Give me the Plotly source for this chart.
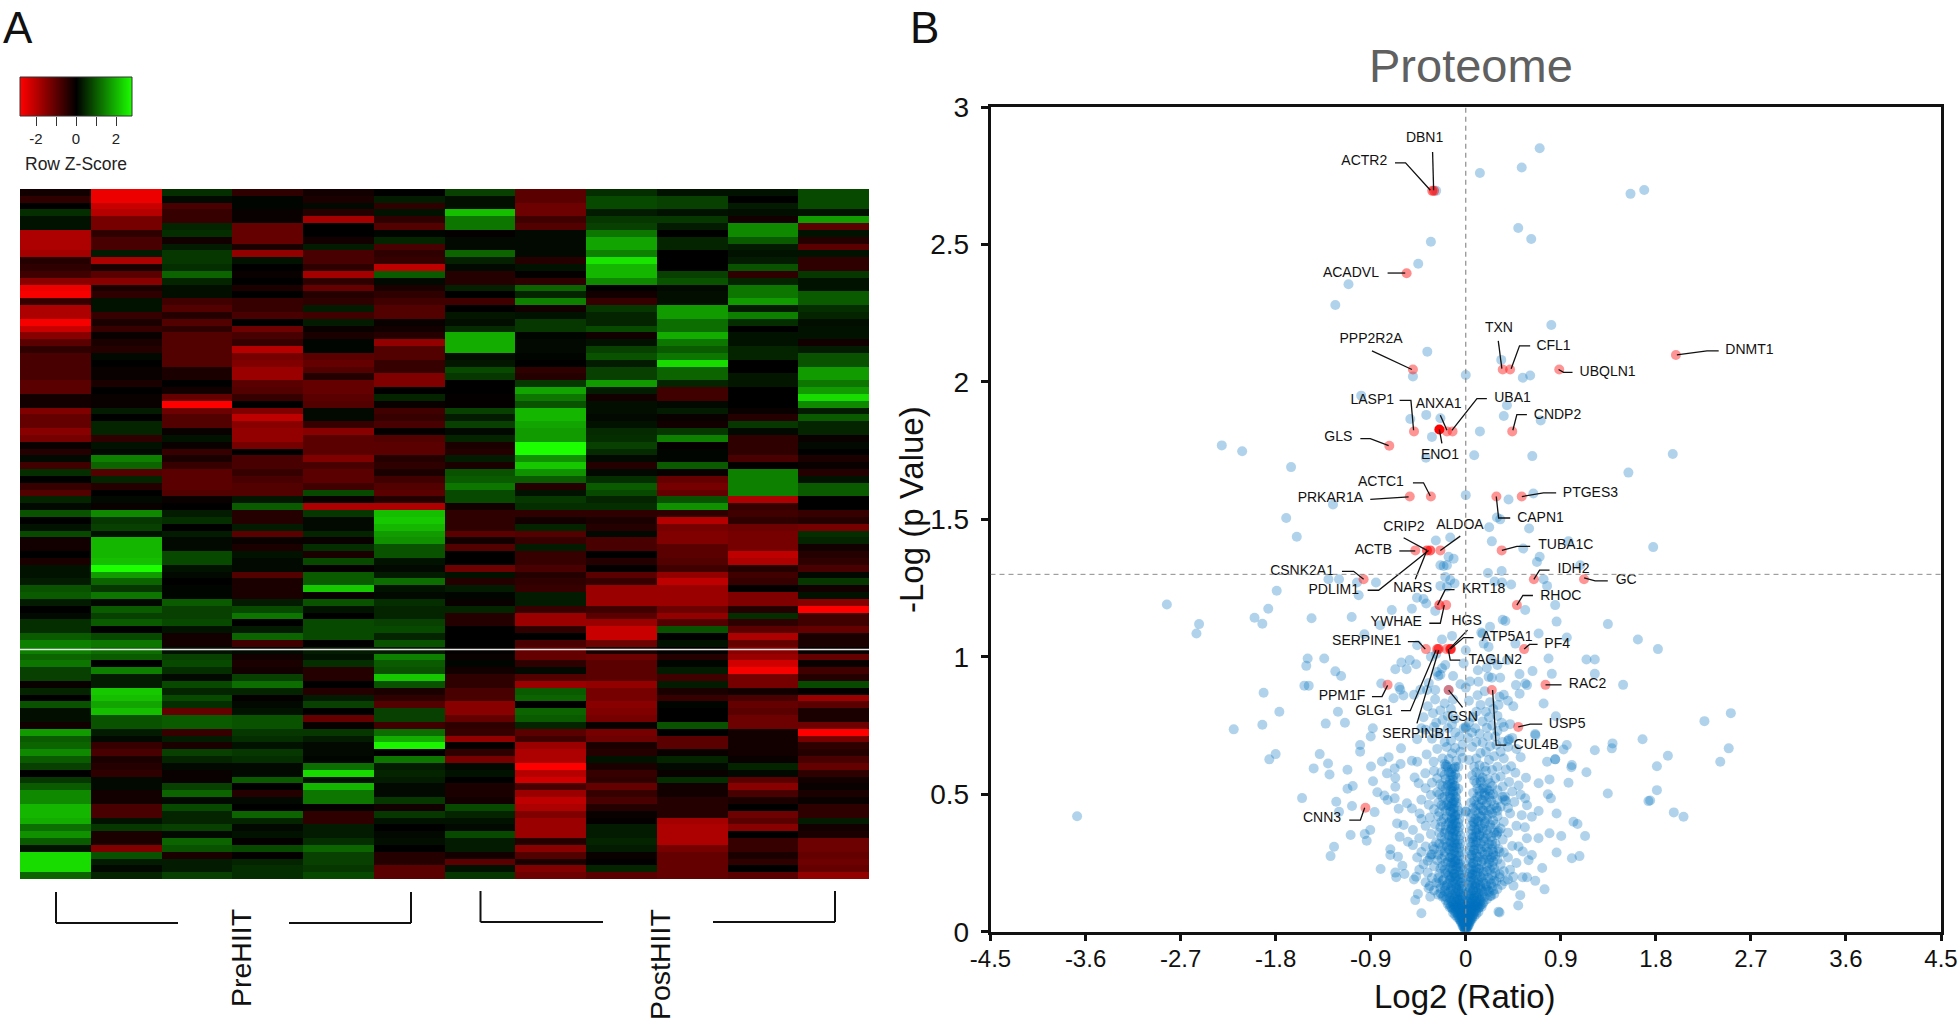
import plotly.graph_objects as go

W, H = 1960, 1020
FONT = "Liberation Sans"

# ---- Panel A: Row Z-scores, one list per sample, top row first ----
pre_1 = [-.2,-.5,0,.5,.2,.2,-1.9,-1.9,-1.9,-1.8, -.4,-.5,-.7,-1.5,-2.6,-2.7,-.6,-1.9,-1.9,-2.7,
 -2.2,-1.5,-1,-.5,-.8,-.8,-.8,-.8,-1,-1, -.2,-.2,-1.4,-1.1,-1.1,-1.5,-1.3,-.1,-.4,.1,
 -.7,.5,0,-.6,-.9,.4,.1,.9,0,.2, .8,-.2,-.2,0,-.3,.2,.2,.3,.9,1, .3,0,.1,.5,.5,1,1.4,1.4,1.1,1.3,
 .7,.7,-.1,.4,0,.9,.15,.15,-.2,1.7, 1,1.1,1.5,1,.7,0,.6,1,1.5,1.5, 2,2,1.9,1.2,1.6,1,.2,2.4,2.4,2.4, 1.1]
pre_2 = [-2.6,-2.6,-2.2,-2,-1.3,-1.3,-.5,-.8,-.8,.3, -1.9,-.3,-1,-1.5,-.3,-.5,.2,.2,-.6,-.3,
 -.6,-.1,-.3,-.4,.1,0,-.1,-.1,-.3,0, -.1,-.1,.3,0,.4,.4,-.5,.2,.1,1.4,
 1.1,-.9,.4,-.4,0,.1,-.1,1.5,.6,.7, .2,2,2,2,2.1,2.8,1.7,1.1,.6,1.3, .1,1,.7,1,0,.8,1.3,1.2,1,0,
 1.4,.3,.3,2.2,2.1,1.8,2.1,.9,.9,.3, .1,-.6,-.8,-.3,-.4,-.5,.1,.1,-.2,-.2, -.8,-.8,.2,.6,-.3,-.3,-1.4,.9,.3,.1, .4]
pre_3 = [.5,.1,-.8,-.6,-.6,.4,.5,-.2,.3,.6, .6,.5,1.1,.4,.15,.15,-.7,-.9,-.4,-.9,
 -.5,-.9,-.9,-.9,-.9,-.9,-.3,-.3,0,-.2, -1.1,-2.8,-1.2,-.9,-.9,-.1,.2,-.1,-.6,-.3,
 -.6,-1,-1,-1,-.9,-.1,0,.3,.5,0, .3,.1,.1,.8,.8,.2,.1,0,.05,.05, 1,.7,.7,.8,.2,-.2,-.2,.2,.7,.8,
 .5,.1,.8,.4,.8,.5,-1.1,1,1,-.6, .3,-.3,.7,.4,.1,-.1,-.1,.7,1.1,.1, .8,.4,.4,.7,.1,1.1,.9,-.3,.3,.3, .7]
pre_4 = [-.5,.05,.05,-.1,-.1,-1.1,-1.1,-1.1,-.3,-1.6, .2,0,-.1,0,-.3,0,-.6,-.6,-.8,0,
 -1.2,-.8,-.6,-2,-1.3,-1.4,-1.7,-1.7,-1,-.9, -.6,0,-1.4,-2.1,-1.5,-1.6,-1.6,-1.3,0,-.8,
 -.8,-.6,-.8,-.9,-.9,.25,1,-.4,-.4,.3, -1,-.1,-.3,.2,.1,.1,-.9,-.3,-.3,-.3, .3,.8,1.3,0,.3,1.1,-.7,.1,-.2,-.3,
 -.2,.7,1.2,.4,-.05,.1,.2,.9,.9,.6, .5,.2,.6,.5,.1,.1,1,0,-.4,.1, 0,1.1,.4,.1,.2,-.05,.8,-.05,.4,.5, .5]
pre_5 = [-.2,-.3,.1,-.4,-1.8,0,0,-.2,.3,-.8, -.8,-.5,-1.8,-.5,-1.1,-.4,-.5,.3,-.7,.3,
 -.1,-.3,.05,.05,-1,-1.1,-.9,-.4,-1.1,-1.1, -1,-.9,.1,.1,-.6,-1.5,-1,-1,-1,-1.4,
 -.8,-1,-1,-.7,.8,-.1,-1.9,.6,.1,.1, .4,-.1,.5,-.3,.8,-.05,1,1,2.2,-.1, .9,.2,0,.8,.8,.8,0,.3,.2,.5,
 -.4,-.4,0,-.4,.3,.7,0,-1.1,-.1,.6, .3,.1,.1,.05,1.2,2.4,.2,2,1.3,1.3, -.05,-.5,-.5,.3,.3,.5,1.1,.7,.7,.6, .8]
pre_6 = [0,.3,-.5,.2,-.5,-.9,.05,.4,-.8,-.5, -.6,-2.1,1,.1,-.3,-.5,-.7,-.9,-.9,-.1,
 -.2,-.4,-1.6,-.9,-.9,-.6,-.6,-1.4,-1.4,0, .4,-.1,-.7,-.6,-.8,-.05,-.9,-1,-1,-.4,
 -.5,-.3,-.7,-.9,-1,-.4,-1.9,2.1,2.2,2, 1.7,1.6,.9,.9,.2,.1,.3,1.2,.2,.1, .5,.4,.4,.7,.8,.4,.9,.3,1.4,1,
 .9,2.2,.9,-.3,-.5,-.9,.7,.7,-.7,1.2, 1.9,2.7,0,1.3,.3,.4,.3,.1,.1,.6, -.2,.6,.2,0,.1,.15,0,-.4,-.4,-1, -1]
post_1 = [.7,.15,.15,2.1,1.3,1.3,-.05,.1,.1,1.1, .35,.1,-.4,-.4,.35,0,-.7,0,.25,.15,
 .45,1.9,1.9,1.9,.15,.25,.8,.6,0,0, -.05,-.05,.7,.3,.7,.1,.4,-.3,-.4,.3,
 -.3,.9,1,1.3,.8,.8,-.2,-.5,-.5,-.5, -1,-.2,-.9,0,0,-1.2,.2,-.4,.3,.05, -.1,.4,-.4,-.4,0,0,0,-.05,-.1,.05,
 -.2,-.5,-.5,-.8,-.8,-1.5,-1.5,-1.1,-.5,-.6, -1.6,-.05,-.5,-1.3,.1,.2,0,-.3,-.3,-.2, .8,.4,.2,.1,.8,.3,.3,-.2,-1,.2, .6]
post_2 = [-1,-1,-1.2,-1.2,-.7,-.9,.1,.1,.1,.1, -.4,.2,-.05,-.5,1.1,.4,1.4,-.2,.2,.6,
 .6,.05,.1,.1,.05,0,-.5,-.4,.6,1.8, 1.3,.9,2,2,1.8,1.7,1.7,2.8,2.8,1.6,
 2.2,1.6,1,-.4,.2,.6,.5,-.5,-.2,.4, -.9,-.6,.3,-.6,-.6,-.8,-.4,-.5,-.6,.3, .3,-.6,-1.7,-1.7,-.5,0,-.8,-1.1,-1.1,-.5,
 .1,-.9,-1.7,1,1.1,0,1.1,1,.4,-1, -.7,-1.7,-1.9,-1.9,-2.8,-2,-2.3,-.8,-1.7,-2.1, -1.9,-1.4,-1.7,-1.7,-1.7,-.4,-1.5,-.9,-.3,-1.4, -1.2]
post_3 = [.5,.8,.8,.3,.6,.7,1.3,1.8,1.8,1.4, 2.5,2,2,1.5,0,-.2,-.6,.6,.4,.4,
 .8,-.2,.2,.7,.9,.3,.7,.7,1.7,.3, -.2,.15,.15,.1,.2,.45,.5,.7,.45,.1,
 -.4,.1,.5,1,.8,.4,.5,-.5,-.3,-.4, .1,-.8,-.8,0,-.4,-.05,-1,-.6,-1.7,-1.7, -1.7,-.7,-1,-1.7,-2.2,-2.2,-1.2,-.3,-1.2,-1,
 -1,-1,-1.6,-1.3,-1.3,-1.5,-1.4,-1.3,-.1,-1.3, -1.2,-.3,-.4,.2,-.3,-.6,-.5,-1.1,-.6,-.8, -.4,-.1,-.05,.3,.3,.4,.3,-.1,-.02,.4, -1]
post_4 = [.2,.7,.7,.2,.6,.3,0,.4,.4,0, 0,0,.7,.9,.1,.15,.15,1.7,1.7,1.2,
 1.2,1.9,1.3,1,1.3,2.4,1.1,1.1,.4,-.7, -.7,.1,.3,-.1,-.2,.6,1.4,-.05,.05,.05,
 1,-.1,-1.1,-1.3,-1.1,.9,1.6,-.5,-2,-1.3, -1.4,-1.4,-1,-1,-.9,-.7,-1.6,-2.1,-1.7,-1.7, -1.7,-1.2,-1.6,-.9,.9,.02,.2,-.05,-.4,.05,
 .3,-.7,.3,-.3,-.6,.05,0,0,.9,0, -1,-1,-.1,.4,.1,-.1,.5,-.2,-.2,-.4, -.4,-.4,-1.8,-1.9,-1.9,-1.9,-1.3,-1.1,-1.1,-1.1, -1.1]
post_5 = [.2,0,.3,.15,-.2,1.5,1.5,1,.3,.2, .3,.9,-.5,.4,1.3,1.3,1.7,.3,1.4,.5,
 0,.2,.2,.4,.4,0,0,.25,.25,0, 0,0,-.1,-.4,.6,.1,-.5,-.5,-.5,-.8,
 -.05,1.4,1.4,1.4,1.4,-1.9,-.6,-.7,-.5,-1.2, -1.3,-1.3,-1.3,-2.1,-1.9,-.4,-.7,-.6,-.05,-1.4, -1.4,-.4,.5,-.5,-1,-1.9,-1.1,-1.5,-1.7,-2.3,
 -2.7,-1.3,-1.3,-.2,-.8,-1.1,-1,-1.2,-1.2,-.2, -.2,-.2,-.2,-.1,.4,.1,-1,-1.5,-.8,-.3, 0,-1.2,-1,-1.5,0,-.6,-.6,-.3,-.5,0, -1]
post_6 = [.8,.8,.8,.2,1.7,-1,.2,-.4,-1,.2, -.5,-.5,.6,.2,.2,1,1,.5,.4,.15,
 .2,.2,-.2,.3,.9,.9,1.7,1.7,1.3,1.7, 2.4,1.5,.3,1,.4,.4,-.1,.1,0,-.3,
 -.1,-.4,.2,1,1,0,0,-.6,-.4,-1.3, .5,.4,-.2,-.4,-.5,-.8,.1,.6,-.2,.2, -1.5,-2.8,-.7,-.7,-1.1,-.3,-.3,-.1,-1.1,-.1,
 -.7,-.4,.8,-.05,-1.7,-1,-.3,-.3,-1.2,-2.8, -1.3,-.5,-.4,-.8,-1.1,-.5,-.2,-.1,-.3,-.1, -.5,-.5,.3,-.2,-.3,-1.2,-1.2,-1.1,-1.2,-1.1, -1.6]
samples = [pre_1, pre_2, pre_3, pre_4, pre_5, pre_6, post_1, post_2, post_3, post_4, post_5, post_6]
assert all(len(s) == 101 for s in samples), [len(s) for s in samples]
key_values = [-2.8,-2.6,-2.4,-2.2,-2,-1.8,-1.6,-1.4,-1.2,-1,-.8,-.6,-.4,-.2,0,.2,.4,.6,.8,1,1.2,1.4,1.6,1.8,2,2.2,2.4,2.6,2.8]
key_ticks = [-2,-1,0,1,2]
key_text = ["-2","","0","","2"]

# ---- Panel B: all proteins (log2 ratio, -log p) ----
outer_proteins = [
 (.70,2.85),(.53,2.78),(.134,2.76),(-.28,2.695),(.497,2.56),(.62,2.52),(-.33,2.51),(-.45,2.43),(-1.11,2.355),(-1.235,2.28),
 (.81,2.207),(-.364,2.11),(-.5,2.02),(0,2.025),(.336,2.08),(.54,2.015),(.61,2.023),(-.99,1.95),(.39,1.915),(-.374,1.88),
 (-.525,1.865),(-.24,1.868),(.36,1.876),(.71,1.86),(.134,1.82),(-.32,1.80),(1.56,2.684),(1.69,2.698),
 (-1.654,1.69),(-.377,1.724),(.08,1.733),(.63,1.73),(1.96,1.738),(1.54,1.67),(0,1.588),(.405,1.572),(.64,1.594),(-1.257,1.554),
 (-1.70,1.505),(-1.6,1.437),(.295,1.507),(.327,1.50),(.222,1.471),(.6,1.467),(.247,1.42),(-.283,1.423),(-.147,1.434),(.973,1.42),
 (1.775,1.399),(.544,1.394),(-.163,1.364),(-.115,1.357),(.7,1.364),(.674,1.345),(-.24,1.333),(-.178,1.333),(-.21,1.33),(1.083,1.333),
 (.34,1.312),(.21,1.305),(-.194,1.29),(-.147,1.279),(-1.3,1.282),(-1.2,1.282),(-1.03,1.27),(-.85,1.27),(.737,1.282),(.273,1.274),
 (.343,1.27),(.43,1.263),(.77,1.258),(-.24,1.258),(-.106,1.267),(-.178,1.255),(-1.79,1.24),(-1.014,1.224),(-.462,1.215),(-.4,1.21),
 (-.374,1.194),(.563,1.17),(.847,1.188),(-1.87,1.175),(-.7,1.17),(-.51,1.175),(-.289,1.167),(-1.46,1.14),(-1.08,1.145),(-2.0,1.142),
 (-1.926,1.12),(.35,1.135),(.375,1.13),(.86,1.128),(1.346,1.119),(-.81,1.115),(.23,1.109),(.147,1.088),(.16,1.084),(-.13,1.076),
 (.69,1.085),(-.96,1.082),(.957,1.07),(1.63,1.063),(-.46,1.042),(-.225,1.063),(0,1.024),(.17,1.048),(.216,1.036),(.47,1.048),(1.82,1.028),
 (-1.497,.994),(-1.34,.994),(-1.51,.967),(-1.235,.947),(-1.18,.93),(.784,.994),(1.143,.99),(1.222,.99),(-.53,.988),(-.61,.979),
 (-.47,.973),(-.194,.97),(-.02,.976),(.247,.988),(.39,.988),(-.667,.955),(-.56,.955),(-.273,.945),(-.225,.958),(.115,.951),
 (.632,.948),(.815,.938),(1.222,.938),(-.26,.93),(-.24,.935),(.216,.927),(.247,.924),(.326,.924),(.12,.909),(.509,.937),(.475,.897),
 (.563,.903),(.58,.897),(1.49,.898),(-1.528,.895),(-1.487,.895),(-.80,.903),(-.63,.89),(-.62,.88),(-.367,.879),(-.289,.879),
 (-.162,.879),(0,.888),(-1.914,.869),(-.59,.859),(-.683,.849),(-.49,.862),(-.43,.88),(.112,.86),(.32,.855),(.36,.862),(.51,.866),
 (.737,.83),(-1.21,.8),(-1.765,.8),(-1.926,.753),(-1.326,.757),(-1.144,.76),(2.51,.795),(2.26,.766),(1.674,.70),(2.49,.667),
 (2.41,.618),(1.914,.64),(1.81,.602),(1.39,.685),(1.222,.66),(.957,.679),(.847,.627),(.77,.618),(1.005,.606),(1.383,.667),
 (-1.8,.646),(-1.86,.627),(-1.383,.646),(-1.304,.612),(-1.44,.594),(-1.0,.679),(-1.0,.655),(-.9,.71),(-.88,.74),(.657,.719),
 (.66,.715),(.41,.7),(.4,.695),(1.81,.515),(1.746,.477),(1.97,.434),(2.062,.418),(-2.31,1.769),(-2.117,1.748),(-2.83,1.19),
 (-2.525,1.119),(-2.55,1.085),(-3.68,.42),(-2.197,.736),(-1.29,.572),(-1.12,.589),(-.897,.601),(-.794,.619),(-.73,.635),
 (-.673,.594),(-.746,.576),(-.667,.56),(-.617,.61),(-.878,.547),(-1.12,.52),(-1.07,.53),(-1.55,.486),(-1.226,.473),(-1.077,.457),
 (-1.2,.436),(-.863,.435),(-.837,.507),(-.77,.495),(-.74,.479),(-.673,.485),(-.635,.447),(-.667,.527),(-.65,.394),(-.588,.388),
 (-1.09,.352),(-.957,.355),(-.904,.37),(-.938,.331),(-.626,.345),(-.547,.327),(-1.247,.309),(-1.28,.275),(-.714,.3),(-.714,.279),
 (-.642,.273),(-.806,.228),(-.6,.24),(-.667,.215),(-.58,.21),(-.658,.198),(1.0,.598),(1.143,.58),(.793,.554),(.973,.542),(.69,.54),
 (1.345,.503),(1.73,.475),(.778,.5),(.806,.485),(.86,.43),(.69,.439),(1.02,.4),(1.058,.392),(.793,.358),(.904,.348),(1.13,.348),
 (.689,.34),(.579,.34),(.86,.288),(1.005,.267),(1.077,.275),(.626,.279),(.595,.26),(.724,.232),(.538,.198),(.58,.198),(.658,.185),
 (.746,.154),(.452,.167),(.516,.133),(.497,.095),(.853,.784),(.926,.663),(.847,.627),
]
core_proteins = [
 (-.01,.008),(.01,.012),(-.02,.016),(.02,.02),(0,.025),(-.03,.027),(.03,.031),(-.015,.034),(.015,.037),(-.04,.036),(.04,.04),(-.05,.043),(.05,.046),
 (-.025,.048),(.025,.05),(-.06,.05),(.06,.054),(-.035,.056),(.035,.058),(-.07,.059),(.07,.062),(0,.04),(0,.055),(-.01,.06),(.01,.065),(0,.012),(-.01,.022),(.01,.03),
 (-.08,.065),(.08,.069),(-.05,.07),(.05,.073),(-.1,.072),(.1,.076),(-.03,.078),(.03,.082),(-.12,.08),(.12,.085),(-.07,.086),(.07,.09),(-.09,.09),(.09,.094),
 (-.14,.092),(.14,.097),(-.04,.098),(.04,.102),(-.11,.1),(.11,.105),(-.16,.104),(.17,.108),(-.06,.108),(.06,.112),(-.13,.112),(.13,.116),(-.19,.115),(.2,.118),
 (-.08,.118),(.08,.122),(-.42,.067),(.31,.073),(.32,.07),(-.02,.09),(.02,.095),(-.06,.082),(.06,.086),(-.1,.094),(.1,.098),(-.13,.085),(.13,.09),
 (-.15,.122),(.15,.126),(-.1,.126),(.1,.13),(-.22,.127),(.23,.13),(-.26,.135),(.27,.137),(-.12,.136),(.12,.14),(-.17,.14),(.17,.145),(-.07,.144),(.07,.149),
 (-.2,.148),(.21,.152),(-.3,.15),(.3,.155),(-.14,.155),(.14,.16),(-.24,.158),(.25,.163),(-.09,.163),(.09,.168),(-.34,.166),(.34,.17),(-.18,.17),(.19,.174),
 (-.12,.176),(.12,.18),(-.28,.178),(.29,.182),(-.38,.18),(.37,.184),(-.22,.186),(.23,.19),(-.15,.19),(.15,.195),(-.1,.196),(.32,.198),(-.32,.195),
 (-.478,.115),(-.453,.137),(-.352,.158),(-.336,.127),(-.47,.2),(-.49,.19),(-.13,.2),(-.11,.21),(-.16,.205),(.17,.205),(.45,.2),(.06,.21),(.09,.22),(-.19,.213),(-.25,.21),
 (-.36,.215),(.28,.215),(.36,.22),(.42,.225),(-.44,.225),(-.12,.225),(-.15,.232),(-.09,.237),(.12,.23),(.2,.236),(.25,.24),(-.22,.24),(-.3,.238),(-.4,.245),(.33,.245),(.48,.25),
 (-.13,.25),(-.17,.255),(.07,.25),(.15,.255),(-.1,.26),(-.27,.26),(-.36,.258),(.22,.262),(.3,.262),(.4,.27),(-.46,.27),(-.14,.27),(-.2,.275),(.11,.272),(.18,.28),(.26,.28),(-.11,.285),
 (-.32,.282),(-.42,.29),(.36,.288),(.54,.292),(-.15,.295),(-.24,.295),(.08,.298),(.14,.3),(.2,.305),(.31,.302),(-.12,.305),(-.18,.31),(-.38,.31),(-.5,.315),(.44,.312),(.5,.31),
 (-.1,.32),(-.14,.325),(-.28,.325),(.1,.325),(.17,.33),(.25,.33),(.35,.335),(-.2,.335),(-.44,.34),(-.12,.345),(-.16,.35),(.07,.345),(.13,.35),(.21,.355),(.29,.352),(.4,.36),
 (-.33,.355),(-.25,.36),(-.11,.365),(-.14,.372),(-.19,.37),(-.5,.37),(.1,.37),(.16,.375),(.24,.378),(.33,.375),(.48,.385),(.56,.38),(-.38,.385),(-.13,.388),(-.1,.395),(-.16,.395),
 (-.29,.39),(-.23,.4),(.08,.395),(.12,.4),(.18,.402),(.26,.405),(.36,.4),(-.13,.41),(-.42,.41),(-.34,.415),(-.1,.42),(-.18,.42),(.14,.42),(.21,.425),(.3,.42),(0,.436),(0,.438),(-.12,.43),
 (-.15,.437),(-.25,.435),(.42,.43),(.53,.424),(.626,.418),(.09,.44),(.16,.442),(.24,.445),(-.437,.43),(-.3,.445),(-.11,.45),(-.14,.456),(-.21,.455),(.12,.46),(.19,.46),(.33,.455),
 (.4,.45),(.563,.485),(.58,.46),(-.51,.448),(-.35,.462),(-.12,.47),(-.17,.472),(-.26,.47),(.05,.47),(.16,.478),(.24,.475),(.3,.48),(.46,.472),(-.557,.467),(-.42,.48),(-.14,.486),
 (-.1,.49),(-.22,.487),(.11,.49),(.18,.495),(.37,.492),(.52,.498),(-.33,.497),(-.15,.505),(-.27,.507),(-.12,.51),(.07,.505),(.13,.512),(.22,.513),(.3,.515),(.44,.51),(-.19,.52),(-.38,.522),
 (-.13,.526),(-.1,.53),(.17,.525),(.25,.53),(.35,.528),(.5,.532),(-.24,.536),(-.15,.54),(-.446,.54),(-.32,.542),(-.484,.561),(.1,.54),(.14,.545),(.41,.545),(-.12,.552),(-.19,.555),
 (-.27,.558),(.21,.555),(.28,.558),(.57,.56),(.33,.565),(-.383,.576),(-.14,.57),(-.1,.572),(.06,.568),(.13,.572),(.47,.578),(-.23,.58),(-.3,.585),(.19,.585),(.25,.588),(.38,.59),
 (-.184,.606),(-.17,.6),(-.13,.592),(-.07,.6),(.08,.6),(.13,.605),(.3,.6),(.43,.602),(-.51,.622),(-.46,.618),(-.304,.618),(-.22,.63),(-.16,.628),(-.09,.622),(-.03,.632),(.03,.625),
 (.1,.63),(.22,.625),(.27,.638),(.36,.63),(.52,.635),(-.37,.645),(-.13,.648),(-.05,.655),(.14,.65),(.19,.655),(.33,.655),(-.613,.667),(-.27,.665),(-.18,.672),(-.1,.668),(.06,.672),(.23,.675),
 (.29,.68),(.4,.672),(.48,.665),(-.2,.69),(-.14,.695),(-.03,.68),(.1,.69),(.16,.688),(.35,.69),(-.46,.7),(-.32,.702),(-.06,.71),(.02,.705),(.21,.71),(.28,.71),(.44,.705),(-.25,.72),(-.1,.725),
 (.06,.725),(.13,.72),(.3,.73),(-.38,.735),(-.42,.74),(-.3,.745),(-.17,.74),(-.02,.74),(0,.74),(0,.745),(.09,.74),(.2,.742),(.25,.75),(.36,.745),(-.28,.76),(-.22,.77),(-.13,.755),(.03,.76),
 (.16,.765),(.34,.76),(.42,.755),(-.4,.78),(-.17,.785),(-.1,.775),(.07,.78),(.22,.78),(.3,.785),(.1,.8),(-.31,.795),(-.24,.805),(-.14,.81),(.19,.8),(.26,.81),(-.36,.82),(-.2,.83),(.14,.825),
 (.23,.835),(.31,.825),(-.29,.845),(-.12,.845),(.03,.84),(.4,.84),(.45,.82),(-.05,.9),(.04,.91),(-.35,.905),(.18,.875),(-.12,.93),(.2,.96),(-.33,1.0),(-.28,1.01),(.3,.97),
]
# the solid stem of the volcano, close to x = 0
stem_proteins = [
 (-.005,.006),(.005,.008),(-.01,.012),(.01,.015),(0,.018),(-.02,.022),(.02,.024),(-.03,.02),(.03,.024),(0,.03),(-.015,.028),(.015,.03),(-.03,.035),(.03,.038),(-.045,.034),(.045,.036),(0,.045),
 (-.02,.042),(.02,.044),(-.04,.05),(.04,.052),(-.06,.044),(.06,.046),(-.08,.052),(.08,.055),(-.015,.052),(.015,.056),(-.05,.06),(.05,.063),(-.1,.06),(.1,.064),(-.025,.064),(.025,.067),(0,.07),
 (-.07,.07),(.07,.072),(-.12,.068),(.12,.072),(-.04,.074),(.04,.077),(-.015,.078),(.015,.08),(-.09,.079),(.09,.082),(-.055,.084),(.055,.087),(-.11,.086),(.11,.09),(-.03,.09),(.03,.092),(-.15,.088),
 (.15,.09),(0,.095),(-.075,.096),(.075,.099),(-.12,.097),(.12,.1),(-.045,.102),(.045,.105),(-.17,.1),(.16,.102),(-.02,.107),(.02,.11),(-.095,.108),(.095,.112),(-.14,.11),(.14,.112),(-.06,.116),
 (.06,.118),(-.035,.12),(.035,.122),(-.11,.12),(.11,.124),(-.18,.124),(.18,.126),(-.08,.128),(.08,.131),(-.05,.133),(.05,.136),(-.13,.132),(.13,.135),(-.02,.138),(.02,.14),(-.1,.141),(.1,.144),
 (-.155,.144),(.155,.147),(-.07,.15),(.07,.152),(-.04,.155),(.04,.158),(-.12,.153),(.12,.157),(-.09,.16),(.09,.163),(-.19,.158),(.19,.16),(-.06,.167),(.06,.17),(-.135,.168),(.135,.17),(-.1,.174),
 (.1,.176),(-.04,.178),(.04,.182),(-.165,.176),(.165,.18),(-.075,.184),(.075,.187),(-.12,.186),(.12,.19),(-.05,.194),(.05,.197),(-.14,.198),(.14,.2),(-.09,.2),(.09,.204),(-.06,.208),(.06,.206),
 (-.11,.212),(.11,.214),(-.17,.216),(.17,.218),(-.07,.22),(.07,.224),(-.13,.226),(.13,.228),(-.09,.23),(.1,.233),(-.05,.234),(.05,.236),(-.115,.24),(.15,.242),(-.07,.246),(.07,.248),(-.14,.25),
 (-.1,.254),(.11,.256),(-.08,.26),(.17,.262),(-.12,.265),(.08,.266),(-.15,.27),(.13,.272),(-.09,.276),(.06,.278),(-.13,.282),(.1,.284),(-.07,.288),(.16,.29),(-.11,.294),(.075,.296),(-.16,.3),
 (.12,.302),(-.09,.306),(.18,.308),(-.13,.31),(.09,.315),(-.08,.318),(.14,.32),(-.11,.324),(.07,.326),(-.15,.33),(.11,.332),(-.1,.336),(.17,.34),(-.13,.342),(.09,.345),(-.09,.35),(.13,.352),
 (-.12,.358),(.1,.36),(-.15,.364),(.16,.366),(-.1,.37),(.12,.374),(-.13,.376),(.08,.38),(-.09,.384),(.14,.386),(-.12,.392),(.18,.394),(-.15,.4),(.11,.404),(-.11,.406),(.09,.41),(-.135,.414),
 (.15,.418),(-.1,.424),(.12,.43),(-.14,.436),(.17,.44),(-.12,.446),(.14,.452),(-.16,.458),(.1,.462),(-.13,.466),(.2,.47),(-.11,.476),(.15,.48),(-.15,.49),(.13,.494),(-.12,.5),(.18,.505),
 (-.14,.515),(.16,.52),(-.11,.53),(-.13,.54),(-.15,.55),(.14,.55),(-.12,.565),(-.14,.58),(-.11,.595),(.37,.48),(.38,.475),(.3,.36),(.31,.365),(.32,.29),(.25,.3),(.26,.29),(-.3,.3),(-.31,.31),
 (.35,.49),(-.33,.28),(-.34,.27),(.4,.19),(.32,.21),(.22,.49),(.23,.5),(-.19,.6),(-.2,.61),(.29,.45),(.3,.44),
]
# more of the crowded flanks, left and right of the dashed line
flank_proteins = [
 (-.03,.1),(.03,.105),(-.05,.115),(.05,.12),(-.03,.13),(.03,.135),(-.04,.145),(.04,.15),(-.03,.165),(.03,.17),(-.05,.18),(.05,.185),(-.03,.195),(.03,.2),(-.045,.21),(.04,.215),
 (-.03,.225),(.03,.23),(-.05,.245),(.05,.25),(-.04,.26),(.04,.265),(-.06,.275),(.05,.28),(-.04,.29),(.04,.295),(-.06,.305),(.05,.31),(-.05,.32),(.045,.325),(-.06,.335),(.06,.34),
 (-.05,.35),(.05,.355),(-.07,.365),(.06,.37),(-.06,.38),(.05,.385),(-.07,.395),(.07,.4),(-.06,.41),(.05,.415),(-.08,.425),(.06,.43),(-.07,.44),(-.08,.455),(.07,.45),(-.09,.47),(.08,.475),(-.09,.485),
 (.24,.13),(.22,.145),(.26,.15),(.2,.165),(.24,.175),(.27,.185),(.21,.195),(.25,.205),(.2,.22),(.23,.225),(.27,.23),(.22,.25),(.26,.255),(.2,.27),(.24,.27),(.28,.275),(.21,.29),(.25,.315),(.22,.32),
 (.28,.32),(.19,.34),(.24,.345),(.27,.36),(.2,.37),(.23,.39),(.28,.39),(.2,.41),(.25,.43),(.22,.44),(.27,.46),(.26,.5),(.2,.52),(.23,.54),(.16,.56),(.18,.6),(.1,.58),(.08,.55),(.11,.52),
 (-.21,.13),(-.24,.14),(-.2,.165),(-.25,.175),(-.21,.19),(-.26,.195),(-.2,.225),(-.24,.23),(-.19,.25),(-.23,.265),(-.26,.28),(-.2,.29),(-.22,.31),(-.25,.32),(-.19,.325),(-.23,.345),(-.2,.36),(-.24,.38),
 (-.19,.385),(-.21,.41),(-.26,.42),(-.19,.44),(-.23,.46),(-.18,.46),(-.2,.49),(-.25,.5),(-.18,.51),(-.22,.53),(-.17,.535),(-.2,.57),(-.16,.58),(-.1,.6),(-.08,.56),(-.07,.52),(-.09,.51),
]
all_proteins = outer_proteins + core_proteins + stem_proteins + flank_proteins
protein_x = [p[0] for p in all_proteins]
protein_y = [p[1] for p in all_proteins]

# Highlighted proteins and how strongly each spot reads in the picture
hit_x = [-.317,-.30,-.56,-.5,.35,.42,.885,-.49,-.25,-.178,-.125,.44,1.99,-.724,-.33,-.53,.29,.53,-.478,-.367,-.336,-.24,.34,-.967,1.12,.645,-.25,-.185,.484,-.377,-.27,-.257,-.18,-.147,-.14,.553,.755,-.74,-.162,.247,.497,-.95]
hit_y = [2.695,2.695,2.395,2.045,2.045,2.045,2.045,1.82,1.827,1.82,1.82,1.82,2.098,1.768,1.583,1.583,1.583,1.583,1.387,1.387,1.387,1.387,1.387,1.282,1.282,1.282,1.188,1.188,1.188,1.028,1.028,1.028,1.028,1.028,1.028,1.028,.898,.898,.879,.879,.745,.451]
hit_alpha = [.5,.5,.45,.42,.42,.42,.42,.42,1,.42,.42,.42,.42,.42,.42,.42,.42,.42,.42,.6,.6,.42,.42,.42,.42,.42,.55,.42,.42,.42,.55,.55,.42,.6,.6,.42,.42,.42,.42,.42,.42,.42]

gene_names = ["DBN1","ACTR2","ACADVL","PPP2R2A","TXN","CFL1","UBQLN1","LASP1","ANXA1","UBA1","CNDP2","DNMT1","GLS","ENO1","ACTC1","PRKAR1A","PTGES3","CAPN1","CRIP2","ALDOA","ACTB","TUBA1C","CSNK2A1","IDH2","GC","PDLIM1","NARS","KRT18","RHOC","YWHAE","HGS","ATP5A1","SERPINE1","PF4","TAGLN2","RAC2","PPM1F","GLG1","GSN","USP5","SERPINB1","CUL4B","CNN3"]
gene_x = [-.39,-.961,-1.087,-.897,.314,.831,1.343,-.885,-.257,.443,.869,2.686,-1.207,-.244,-.803,-1.282,1.181,.708,-.585,-.055,-.875,.948,-1.55,1.02,1.519,-1.25,-.503,.169,.9,-.658,.008,.39,-.938,.866,.279,1.153,-1.172,-.87,-.03,.96,-.462,.667,-1.361]
gene_y = [2.885,2.8,2.394,2.153,2.193,2.127,2.033,1.933,1.916,1.938,1.878,2.113,1.796,1.731,1.633,1.577,1.594,1.503,1.469,1.476,1.388,1.404,1.309,1.318,1.276,1.24,1.25,1.244,1.221,1.125,1.128,1.069,1.056,1.044,.988,.901,.855,.801,.779,.754,.717,.678,.41]

# Leader lines from each label to its protein
leaders = [
 [(-.314,2.836),(-.304,2.697)], [(-.67,2.797),(-.57,2.797),(-.335,2.697)], [(-.74,2.396),(-.573,2.396)], [(-.888,2.113),(-.51,2.045)],
 [(.308,2.149),(.342,2.048)], [(.61,2.131),(.509,2.131),(.43,2.048)], [(1.011,2.035),(.926,2.035),(.879,2.045)],
 [(-.626,1.933),(-.519,1.933),(-.494,1.824)], [(-.241,1.879),(-.178,1.824)], [(.2,1.939),(.106,1.939),(-.131,1.824)],
 [(.579,1.881),(.484,1.881),(.446,1.824)], [(-.25,1.827),(-.226,1.776)], [(2.395,2.113),(2.284,2.113),(1.999,2.098)],
 [(-.998,1.794),(-.904,1.794),(-.73,1.768)], [(-.5,1.633),(-.4,1.633),(-.336,1.585)], [(-.904,1.573),(-.541,1.582)],
 [(.856,1.596),(.736,1.596),(.531,1.583)], [(.421,1.505),(.311,1.505),(.289,1.583)], [(-.588,1.433),(-.367,1.387)],
 [(-.052,1.439),(-.241,1.387)], [(-.629,1.385),(-.478,1.385)], [(.61,1.402),(.484,1.402),(.342,1.387)],
 [(-1.172,1.311),(-1.062,1.311),(-.967,1.282)], [(.793,1.315),(.699,1.315),(.645,1.282)], [(1.345,1.276),(1.225,1.276),(1.121,1.287)],
 [(-.929,1.242),(-.825,1.242),(-.352,1.387)], [(-.478,1.282),(-.368,1.387)], [(-.106,1.244),(-.194,1.244),(-.267,1.188)],
 [(.636,1.223),(.541,1.223),(.484,1.188)], [(-.345,1.122),(-.241,1.122),(-.203,1.188)], [(.017,1.097),(-.156,1.028)],
 [(.074,1.07),(-.02,1.07),(-.147,1.028)], [(-.548,1.055),(-.447,1.055),(-.383,1.028)], [(.68,1.045),(.604,1.045),(.553,1.028)],
 [(-.052,.988),(-.147,.988),(-.166,1.028)], [(.907,.898),(.755,.898)], [(-.888,.855),(-.793,.855),(-.74,.896)],
 [(-.613,.804),(-.525,.804),(-.282,1.024)], [(-.462,.758),(-.257,1.024)], [(-.03,.816),(-.162,.879)],
 [(.724,.755),(.61,.755),(.497,.745)], [(.383,.679),(.288,.679),(.254,.879)], [(-1.103,.406),(-.998,.406),(-.957,.451)],
]
leader_x, leader_y = [], []
for seg in leaders:
    leader_x += [p[0] for p in seg] + [None]
    leader_y += [p[1] for p in seg] + [None]

volcano_x_ticks = [-4.5,-3.6,-2.7,-1.8,-.9,0,.9,1.8,2.7,3.6,4.5]
volcano_x_text = ["-4.5","-3.6","-2.7","-1.8","-0.9","0","0.9","1.8","2.7","3.6","4.5"]
volcano_y_ticks = [0,.5,1,1.5,2,2.5,3]
volcano_y_text = ["0","0.5","1","1.5","2","2.5","3"]
significance_line = 1.3


def fx(p):
    return p / W


def fy(p):
    return 1 - p / H


RYG = [[0, "#ff0000"], [.5, "#000000"], [1, "#1cff00"]]
fig = go.Figure()
fig.add_trace(go.Heatmap(
    z=[list(r) for r in zip(*samples)], x=list(range(12)), y=list(range(101)),
    colorscale=RYG, zmin=-2.8, zmax=2.8, showscale=False,
    xaxis="x2", yaxis="y2", hoverinfo="skip",
))
fig.add_trace(go.Heatmap(
    z=[key_values], x=key_values, y=[0], colorscale=RYG, zmin=-2.8, zmax=2.8, showscale=False,
    zsmooth="best", xaxis="x3", yaxis="y3", hoverinfo="skip",
))
fig.add_trace(go.Scatter(x=protein_x, y=protein_y, mode="markers", hoverinfo="skip", showlegend=False,
                         marker=dict(size=10, color="#0070c0", opacity=.31, line=dict(width=0))))
fig.add_trace(go.Scatter(x=hit_x, y=hit_y, mode="markers", hoverinfo="skip", showlegend=False,
                         marker=dict(size=10, color="#ff0000", opacity=hit_alpha, line=dict(width=0))))
fig.add_trace(go.Scatter(x=leader_x, y=leader_y, mode="lines", hoverinfo="skip", showlegend=False,
                         line=dict(color="#111111", width=1.3)))
fig.add_trace(go.Scatter(x=gene_x, y=gene_y, text=gene_names, mode="text", hoverinfo="skip", showlegend=False,
                         textposition="middle center", textfont=dict(family=FONT, size=14, color="#111111")))

shapes = [
    dict(type="line", xref="x", yref="y", x0=-4.5, x1=4.5, y0=significance_line, y1=significance_line,
         line=dict(color="#8c8c8c", width=1, dash="5px,4px"), layer="above"),
    dict(type="line", xref="x", yref="y", x0=0, x1=0, y0=0, y1=3,
         line=dict(color="#8c8c8c", width=1.2, dash="5px,4px"), layer="above"),
    dict(type="line", xref="x2", yref="y2", x0=-.5, x1=11.5, y0=66.9, y1=66.9,
         line=dict(color="#e8e8e8", width=1.4), layer="above"),
    dict(type="rect", xref="x3 domain", yref="y3 domain", x0=0, x1=1, y0=0, y1=1,
         line=dict(color="#333333", width=1), layer="above"),
]
for a, b, c, d, top, low in [(56, 178, 289, 411, 892, 923), (480.5, 603, 713, 835, 891, 922)]:
    for x0, y0, x1, y1 in [(a, top, a, low), (a, low, b, low), (c, low, d, low), (d, low, d, top)]:
        shapes.append(dict(type="line", xref="paper", yref="paper", x0=fx(x0), x1=fx(x1), y0=fy(y0), y1=fy(y1),
                           line=dict(color="#111111", width=2)))


def note(text, x, y, size, color="#111111", angle=0):
    return dict(text=text, x=fx(x), y=fy(y), xref="paper", yref="paper", showarrow=False, xanchor="center",
                yanchor="middle", textangle=angle, font=dict(family=FONT, size=size, color=color))


fig.update_layout(
    width=W, height=H, margin=dict(l=0, r=0, t=0, b=0), paper_bgcolor="white", plot_bgcolor="white", showlegend=False,
    font=dict(family=FONT, color="#111111"),
    xaxis=dict(domain=[fx(990.5), fx(1941)], range=[-4.5, 4.5], tickvals=volcano_x_ticks, ticktext=volcano_x_text,
               ticks="outside", ticklen=7, tickwidth=2.5, tickcolor="#111111", showgrid=False, zeroline=False,
               showline=True, linecolor="#111111", linewidth=2.5, mirror=True, tickfont=dict(size=24), automargin=False,
               ticklabelstandoff=-3),
    yaxis=dict(domain=[fy(931.7), fy(107)], range=[0, 3], tickvals=volcano_y_ticks, ticktext=volcano_y_text,
               ticks="outside", ticklen=7, tickwidth=2.5, tickcolor="#111111", showgrid=False, zeroline=False,
               showline=True, linecolor="#111111", linewidth=2.5, mirror=True, tickfont=dict(size=28), automargin=False,
               ticklabelstandoff=6),
    xaxis2=dict(domain=[fx(20), fx(869)], range=[-.5, 11.5], visible=False, anchor="y2"),
    yaxis2=dict(domain=[fy(879), fy(189)], range=[100.5, -.5], visible=False, anchor="x2"),
    xaxis3=dict(domain=[fx(20), fx(132)], range=[-2.8, 2.8], anchor="y3", tickvals=key_ticks, ticktext=key_text,
                ticks="outside", ticklen=9, tickwidth=1, tickcolor="#333333", showgrid=False, zeroline=False, showline=False,
                tickfont=dict(size=15, color="#222222"), automargin=False),
    yaxis3=dict(domain=[fy(116), fy(77)], range=[-.5, .5], visible=False, anchor="x3"),
    shapes=shapes,
    annotations=[
        note("A", 18, 27, 44), note("B", 924, 27, 44),
        note("Proteome", 1471, 66, 47, "#606060"),
        note("PreHIIT", 241, 958, 28.5, angle=-90), note("PostHIIT", 660, 965, 28.5, angle=-90),
        note("Row Z-Score", 76, 164, 17.5, "#222222"),
        note("Log2 (Ratio)", 1465, 996, 33), note("-Log (p Value)", 911, 510, 33, angle=-90),
    ],
)
fig.write_html("out.html", config=dict(displayModeBar=False), post_script="document.body.style.margin='0';")
